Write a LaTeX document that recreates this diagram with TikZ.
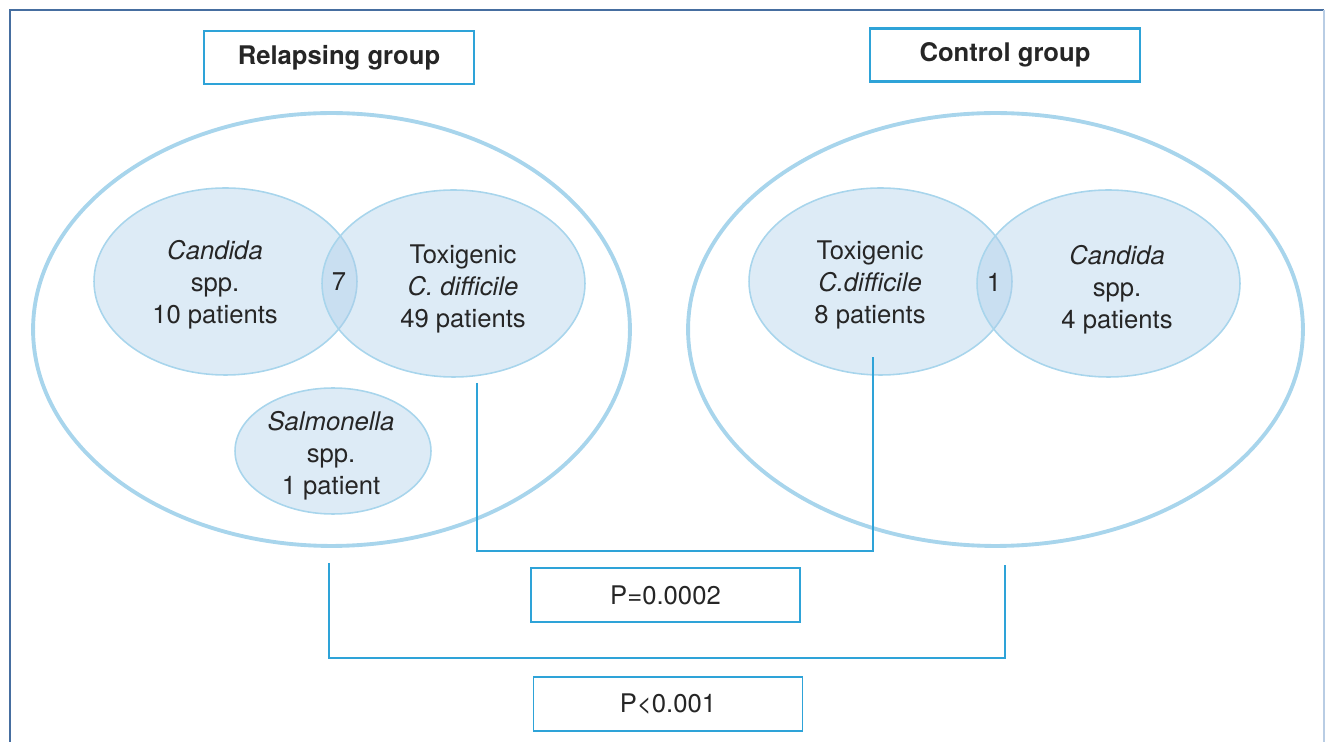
\documentclass[tikz,border=0pt]{standalone}
\usepackage{fontspec}
\setmainfont{TeX Gyre Heros}
\usetikzlibrary{shapes.geometric}
\definecolor{boxblue}{RGB}{46,163,216}
\definecolor{ringblue}{RGB}{168,213,236}
\definecolor{blobfill}{RGB}{171,205,233}
\definecolor{framedark}{RGB}{70,110,160}
\definecolor{framelight}{RGB}{185,205,228}

\begin{document}
\begin{tikzpicture}[x=0.02cm, y=-0.02cm,
  every node/.style={font=\fontsize{14.6}{18.1}\selectfont, text=black!85, inner sep=0pt, align=center},
  groupbox/.style={draw=boxblue, line width=1.4pt, minimum width=5.4cm, minimum height=1.06cm, font=\fontsize{14.6}{18.1}\selectfont\bfseries},
  pbox/.style={draw=boxblue, line width=0.9pt, minimum width=5.38cm, minimum height=1.08cm},
  ring/.style={ellipse, draw=ringblue, line width=2.2pt},
  blob/.style={ellipse, draw=ringblue, line width=0.9pt, fill=blobfill, fill opacity=0.4, minimum width=5.26cm, minimum height=3.74cm},
  bracket/.style={draw=boxblue, line width=1.1pt}]
  \useasboundingbox (0,0) rectangle (1325,742);

  % Frame
  \draw[framedark, line width=0.6pt] (10,742) -- (10,10) -- (1324,10);
  \draw[framelight, line width=0.6pt] (1324,10) -- (1324,742);

  % Groups
  \node[groupbox] (relapse) at (339,57.5) {Relapsing group};
  \node[groupbox] (control) at (1005,55) {Control group};
  \node[ring, minimum width=11.94cm, minimum height=8.66cm] (left) at (331.5,329.5) {};
  \node[ring, minimum width=12.3cm, minimum height=8.66cm] (right) at (995.5,329.5) {};

  % Sets
  \node[blob] (candL) at (225.5,281.5) {};
  \node[blob] (toxL) at (453.5,283.5) {};
  \node[blob, minimum width=3.92cm, minimum height=2.52cm] (salm) at (333,451) {};
  \node[blob] (toxR) at (880.5,281.5) {};
  \node[blob] (candR) at (1108.5,283.5) {};

  % Labels
  \node (candLt) at (215,285) {\textit{Candida}\\spp.\\10 patients};
  \node (seven) at (339,282) {7};
  \node (toxLt) at (463,289) {Toxigenic\\\textit{C. difficile}\\49 patients};
  \node (salmt) at (331,456) {\textit{Salmonella}\\spp.\\1 patient};
  \node (toxRt) at (870,285) {Toxigenic\\\textit{C.difficile}\\8 patients};
  \node (one) at (994,282) {1};
  \node (candRt) at (1117,290) {\textit{Candida}\\spp.\\4 patients};

  % P values
  \node[pbox] (pin) at (665.5,595) {P=0.0002};
  \node[pbox] (pout) at (668,704) {P<0.001};

  % Brackets
  \coordinate (inA) at (477,383);
  \coordinate (inB) at (873,357);
  \coordinate (outA) at (329,563);
  \coordinate (outB) at (1005,565);
  \draw[bracket] (inA) -- ++(0,168) -| (inB);
  \draw[bracket] (outA) -- ++(0,95) -| (outB);
\end{tikzpicture}
\end{document}
